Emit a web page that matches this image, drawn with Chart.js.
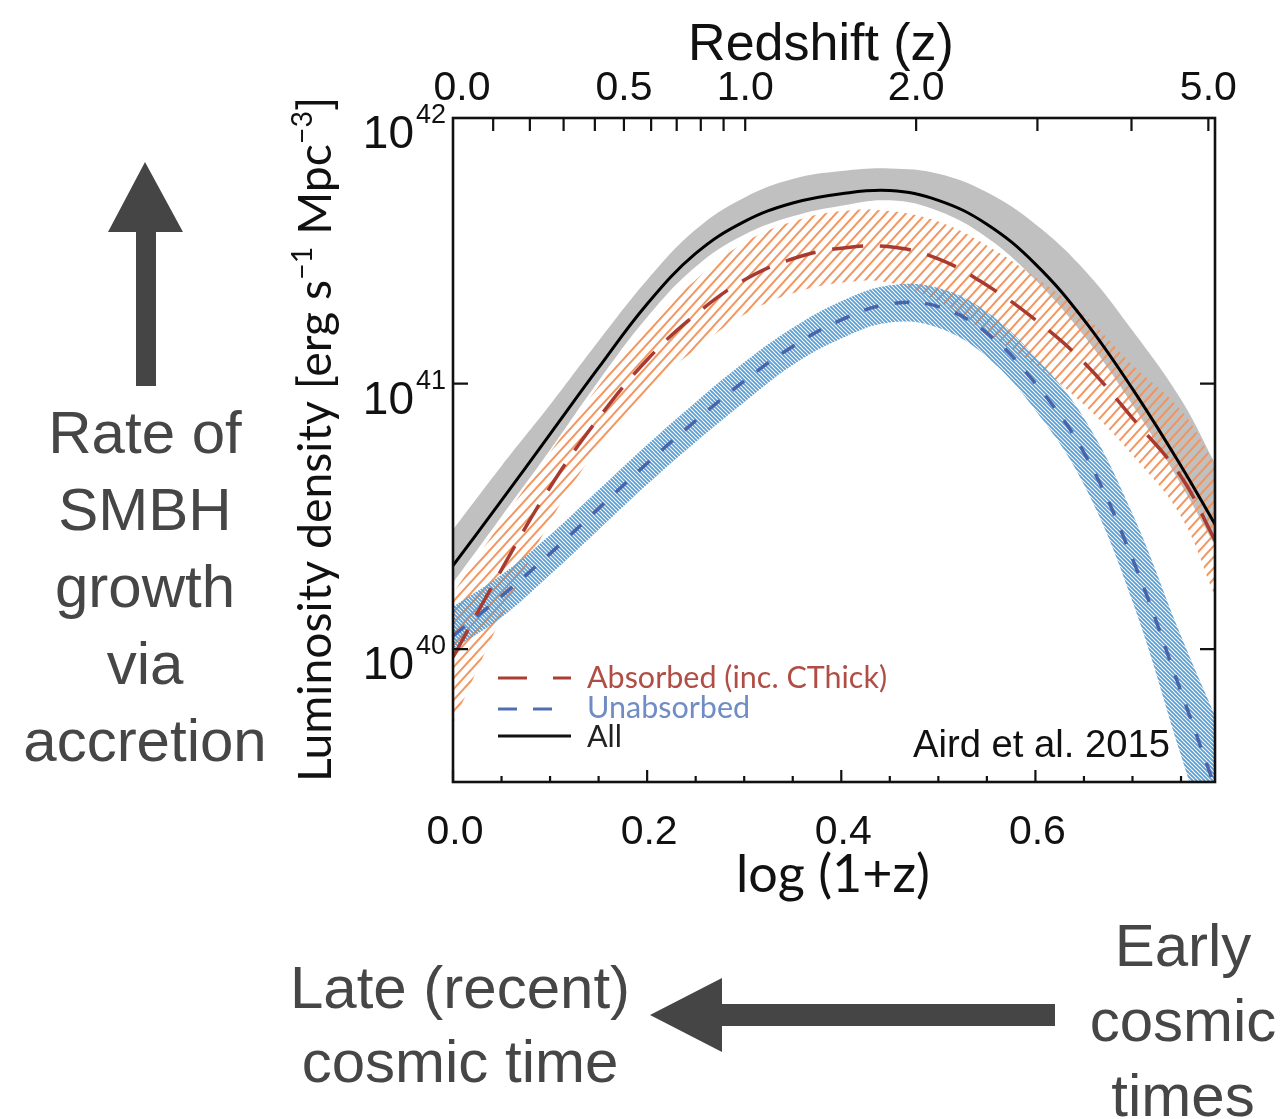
<!DOCTYPE html>
<html>
<head>
<meta charset="utf-8">
<script src="https://cdn.jsdelivr.net/npm/chart.js@4.4.1/dist/chart.umd.min.js"></script>
<style>
html,body{margin:0;padding:0;background:#fff;}
#wrap{position:relative;width:1287px;height:1119px;overflow:hidden;background:#fff;}
#c{position:absolute;left:0;top:0;}
.ann{position:absolute;font-family:"Liberation Sans",Arial,sans-serif;color:#464646;text-align:center;font-size:60px;white-space:nowrap;}
svg{position:absolute;left:0;top:0;}
</style>
</head>
<body>
<div id="wrap">
<canvas id="c" width="1287" height="1119"></canvas>
<svg width="1287" height="1119">
  <polygon points="145,162 108,232 136,232 136,386 156,386 156,232 183,232" fill="#454545"/>
  <polygon points="650,1015 722,978 722,1004 1055,1004 1055,1026 722,1026 722,1052" fill="#454545"/>
</svg>
<div class="ann" style="left:0;top:394px;width:290px;line-height:77px;">Rate of<br>SMBH<br>growth<br>via<br>accretion</div>
<div class="ann" style="left:260px;top:951px;width:400px;line-height:74px;">Late (recent)<br>cosmic time</div>
<div class="ann" style="left:1053px;top:908px;width:260px;line-height:75px;">Early<br>cosmic<br>times</div>
</div>
<script>
// ---- data (log10 of luminosity density) ----
const LOG1PZ = [0, 0.05, 0.1, 0.15, 0.2, 0.25, 0.3, 0.35, 0.4, 0.45, 0.5, 0.55, 0.6, 0.65, 0.7, 0.75, 0.785];
const ALL_LOG = [40.315, 40.56, 40.81, 41.06, 41.30, 41.49, 41.61, 41.68, 41.715, 41.727, 41.69, 41.60, 41.45, 41.24, 40.98, 40.69, 40.47];
const ALL_HI  = [40.45, 40.69, 40.92, 41.16, 41.39, 41.58, 41.70, 41.77, 41.80, 41.81, 41.79, 41.72, 41.60, 41.43, 41.20, 40.94, 40.70];
const ALL_LO  = [40.25, 40.50, 40.75, 41.01, 41.25, 41.44, 41.56, 41.63, 41.67, 41.69, 41.65, 41.55, 41.39, 41.18, 40.92, 40.62, 40.39];
const ABS_LOG = [39.97, 40.30, 40.61, 40.87, 41.09, 41.26, 41.39, 41.47, 41.51, 41.515, 41.47, 41.37, 41.24, 41.08, 40.87, 40.65, 40.41];
const ABS_HI  = [40.21, 40.48, 40.74, 40.99, 41.21, 41.39, 41.53, 41.61, 41.65, 41.65, 41.61, 41.52, 41.40, 41.26, 41.07, 40.90, 40.70];
const ABS_LO  = [39.72, 40.12, 40.48, 40.76, 40.97, 41.13, 41.26, 41.34, 41.38, 41.38, 41.31, 41.19, 41.07, 40.92, 40.73, 40.50, 40.20];
const UN_LOG  = [40.05, 40.20, 40.36, 40.53, 40.70, 40.86, 41.01, 41.14, 41.24, 41.30, 41.29, 41.19, 41.00, 40.74, 40.34, 39.84, 39.48];
const UN_HI   = [40.16, 40.28, 40.43, 40.60, 40.77, 40.93, 41.08, 41.21, 41.31, 41.37, 41.36, 41.27, 41.10, 40.87, 40.51, 40.05, 39.75];
const UN_LO   = [40.00, 40.12, 40.28, 40.45, 40.62, 40.78, 40.93, 41.07, 41.17, 41.23, 41.21, 41.10, 40.90, 40.62, 40.18, 39.60, 39.20];

// ---- axes ----
const X_MIN = 0, X_MAX = 0.785;
const Y_MIN = Math.pow(10, 39.5), Y_MAX = 1e42;
const Y_TICKS = [1e40, 1e41, 1e42];
const Y_EXP = ['40', '41', '42'];
const X_MAJOR = [0, 0.2, 0.4, 0.6];
const X_MAJOR_LABELS = ['0.0', '0.2', '0.4', '0.6'];
const X_MINOR = [0.05, 0.1, 0.15, 0.25, 0.3, 0.35, 0.45, 0.5, 0.55, 0.65, 0.7, 0.75];
const Z_TICKS = [0.1, 0.2, 0.3, 0.4, 0.5, 0.6, 0.7, 0.8, 0.9, 1, 2, 3, 4, 5];
const Z_LABEL_VALUES = [0, 0.5, 1, 2, 5];
const Z_LABELS = ['0.0', '0.5', '1.0', '2.0', '5.0'];

const LEGEND = ['Absorbed (inc. CThick)', 'Unabsorbed', 'All'];
const CREDIT = 'Aird et al. 2015';

const pts = arr => LOG1PZ.map((x, i) => ({x: x, y: Math.pow(10, arr[i])}));

function hatch(color, w, h, lw, forward) {
  const c = document.createElement('canvas');
  c.width = w; c.height = h;
  const g = c.getContext('2d');
  g.strokeStyle = color; g.lineWidth = lw; g.lineCap = 'butt';
  g.beginPath();
  if (forward) {
    g.moveTo(0, h); g.lineTo(w, 0);
    g.moveTo(-w, h); g.lineTo(0, 0);
    g.moveTo(w, h); g.lineTo(2 * w, 0);
    g.moveTo(0, 2 * h); g.lineTo(w, h);
    g.moveTo(0, 0); g.lineTo(w, -h);
  } else {
    g.moveTo(0, 0); g.lineTo(w, h);
    g.moveTo(-w, 0); g.lineTo(0, h);
    g.moveTo(w, 0); g.lineTo(2 * w, h);
    g.moveTo(0, -h); g.lineTo(w, 0);
    g.moveTo(0, h); g.lineTo(w, 2 * h);
  }
  g.stroke();
  return g.createPattern(c, 'repeat');
}
const orangeHatch = hatch('rgba(241,146,92,0.95)', 10, 11, 2.1, true);
const blueHatch = hatch('rgb(88,160,214)', 4, 4, 1.8, false);

const NONE = 'rgba(0,0,0,0)';
const CM = 'Lato, "DejaVu Sans", sans-serif';
const HV = '"Liberation Sans", Arial, sans-serif';

function fitSize(ctx, text, family, target) {
  ctx.font = '100px ' + family;
  return 100 * target / ctx.measureText(text).width;
}

const decor = {
  id: 'decor',
  afterDraw(chart) {
    const ctx = chart.ctx, a = chart.chartArea, x = chart.scales.x, y = chart.scales.y;
    ctx.save();
    // frame
    ctx.strokeStyle = '#111';
    ctx.lineWidth = 2.6;
    ctx.strokeRect(a.left, a.top, a.right - a.left, a.bottom - a.top);
    // tick marks (inward)
    ctx.lineWidth = 2.2;
    ctx.beginPath();
    Y_TICKS.forEach(v => {
      const py = y.getPixelForValue(v);
      ctx.moveTo(a.left, py); ctx.lineTo(a.left + 15, py);
      ctx.moveTo(a.right, py); ctx.lineTo(a.right - 15, py);
    });
    X_MAJOR.forEach(v => { const px = x.getPixelForValue(v); ctx.moveTo(px, a.bottom); ctx.lineTo(px, a.bottom - 12); });
    X_MINOR.forEach(v => { const px = x.getPixelForValue(v); ctx.moveTo(px, a.bottom); ctx.lineTo(px, a.bottom - 6); });
    Z_TICKS.forEach(z => { const px = x.getPixelForValue(Math.log10(1 + z)); ctx.moveTo(px, a.top); ctx.lineTo(px, a.top + 13); });
    ctx.stroke();

    ctx.fillStyle = '#111';
    // bottom tick labels
    ctx.font = '41px ' + HV;
    ctx.textAlign = 'center';
    ctx.textBaseline = 'alphabetic';
    X_MAJOR.forEach((v, i) => ctx.fillText(X_MAJOR_LABELS[i], x.getPixelForValue(v) + 2, a.bottom + 62));
    // top tick labels
    Z_LABEL_VALUES.forEach((z, i) => {
      let px = x.getPixelForValue(Math.log10(1 + z));
      if (i === 0) px += 9;
      ctx.fillText(Z_LABELS[i], px, a.top - 18);
    });
    // top title
    const rs = fitSize(ctx, 'Redshift (z)', HV, 266);
    ctx.font = rs.toFixed(1) + 'px ' + HV;
    ctx.fillText('Redshift (z)', 821, 60);
    // y tick labels
    Y_TICKS.forEach((v, i) => {
      const py = y.getPixelForValue(v);
      ctx.font = '46px ' + HV;
      ctx.textAlign = 'right';
      ctx.fillText('10', 414, py + 30);
      ctx.font = '27px ' + HV;
      ctx.textAlign = 'left';
      ctx.fillText(Y_EXP[i], 416, py + 5);
    });
    // bottom title
    ctx.textAlign = 'center';
    const bs = fitSize(ctx, 'log (1+z)', CM, 194);
    ctx.font = bs.toFixed(1) + 'px ' + CM;
    ctx.fillText('log (1+z)', 833, 892);
    // y title with superscripts
    const parts = [['Luminosity density [erg s', false], ['\u22121', true], [' Mpc', false], ['\u22123', true], [']', false]];
    let tot = 0;
    parts.forEach(p => { ctx.font = (p[1] ? 62 : 100) + 'px ' + CM; tot += ctx.measureText(p[0]).width; });
    const ys = 100 * 686 / tot;
    ctx.translate(331, 439);
    ctx.rotate(-Math.PI / 2);
    ctx.textAlign = 'left';
    let cx = -343;
    parts.forEach(p => {
      const s = p[1] ? ys * 0.62 : ys;
      ctx.font = s.toFixed(1) + 'px ' + CM;
      ctx.fillText(p[0], cx, p[1] ? -ys * 0.42 : 0);
      cx += ctx.measureText(p[0]).width;
    });
    ctx.setTransform(1, 0, 0, 1, 0, 0);

    // legend
    const ls = fitSize(ctx, LEGEND[0], CM, 300);
    ctx.lineCap = 'butt';
    ctx.lineWidth = 3;
    ctx.strokeStyle = 'rgb(170,62,52)';
    ctx.setLineDash([29, 26]);
    ctx.beginPath(); ctx.moveTo(498, 678); ctx.lineTo(571, 678); ctx.stroke();
    ctx.strokeStyle = 'rgb(80,110,180)';
    ctx.setLineDash([19, 16]);
    ctx.beginPath(); ctx.moveTo(498, 709); ctx.lineTo(552, 709); ctx.stroke();
    ctx.strokeStyle = '#111';
    ctx.setLineDash([]);
    ctx.beginPath(); ctx.moveTo(498, 736); ctx.lineTo(571, 736); ctx.stroke();
    ctx.font = ls.toFixed(1) + 'px ' + CM;
    ctx.textAlign = 'left';
    ctx.fillStyle = 'rgb(176,78,70)';
    ctx.fillText(LEGEND[0], 587, 688);
    ctx.fillStyle = 'rgb(112,140,196)';
    ctx.fillText(LEGEND[1], 587, 718);
    ctx.fillStyle = '#222';
    ctx.fillText(LEGEND[2], 587, 747);
    // credit
    const cs = fitSize(ctx, CREDIT, HV, 257);
    ctx.font = cs.toFixed(1) + 'px ' + HV;
    ctx.fillStyle = '#111';
    ctx.fillText(CREDIT, 913, 757);
    ctx.restore();
  }
};

new Chart(document.getElementById('c'), {
  type: 'line',
  data: {
    datasets: [
      {label: 'All', data: pts(ALL_LOG), borderColor: '#000', borderWidth: 3, fill: false, order: 0},
      {label: 'Absorbed (inc. CThick)', data: pts(ABS_LOG), borderColor: 'rgb(168,58,48)', borderWidth: 3.5, borderDash: [31, 17], fill: false, order: 1},
      {label: 'Unabsorbed', data: pts(UN_LOG), borderColor: 'rgb(72,100,172)', borderWidth: 3.5, borderDash: [15, 16], fill: false, order: 2},
      {label: 'Unabsorbed upper', data: pts(UN_HI), borderColor: NONE, borderWidth: 0, fill: '+1', backgroundColor: blueHatch, order: 3},
      {label: 'Unabsorbed lower', data: pts(UN_LO), borderColor: NONE, borderWidth: 0, fill: false, order: 3},
      {label: 'Absorbed upper', data: pts(ABS_HI), borderColor: NONE, borderWidth: 0, fill: '+1', backgroundColor: orangeHatch, order: 4},
      {label: 'Absorbed lower', data: pts(ABS_LO), borderColor: NONE, borderWidth: 0, fill: false, order: 4},
      {label: 'All upper', data: pts(ALL_HI), borderColor: NONE, borderWidth: 0, fill: '+1', backgroundColor: 'rgb(192,192,192)', order: 5},
      {label: 'All lower', data: pts(ALL_LO), borderColor: NONE, borderWidth: 0, fill: false, order: 5}
    ]
  },
  options: {
    responsive: false,
    devicePixelRatio: 1,
    animation: false,
    layout: {padding: {left: 453, right: 72, top: 118, bottom: 337}},
    elements: {point: {radius: 0}, line: {tension: 0.4, cubicInterpolationMode: 'default'}},
    plugins: {legend: {display: false}, tooltip: {enabled: false}, filler: {drawTime: 'beforeDatasetDraw'}},
    scales: {
      x: {type: 'linear', min: X_MIN, max: X_MAX, display: false},
      y: {type: 'logarithmic', min: Y_MIN, max: Y_MAX, display: false}
    }
  },
  plugins: [decor]
});
</script>
</body>
</html>
